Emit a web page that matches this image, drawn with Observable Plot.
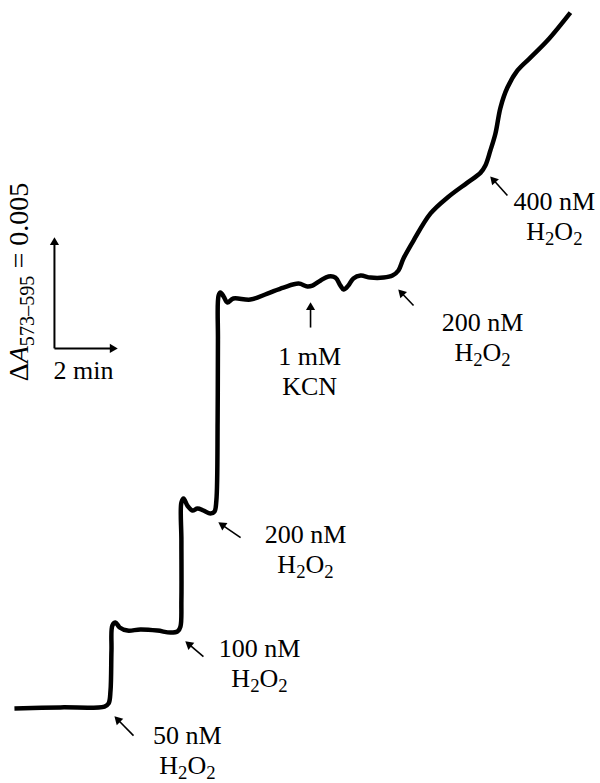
<!DOCTYPE html>
<html><head><meta charset="utf-8">
<script src="https://cdn.jsdelivr.net/npm/d3@7"></script>
<script src="https://cdn.jsdelivr.net/npm/@observablehq/plot@0.6"></script>
<style>body{margin:0;background:#fff} svg text, svg tspan {font-family: 'Liberation Serif', 'Times New Roman', serif !important;}</style>
</head><body><div id="chart"></div>
<script>
// Trace: time (min) and ΔA573–595 (×10^-3)
const traceTime = [0.03,1.49,2.89,3.02,3.08,3.11,3.14,3.24,3.37,3.62,4.03,4.57,4.98,5.21,5.30,5.33,5.33,5.33,5.40,5.52,5.68,5.84,6.03,6.25,6.38,6.44,6.48,6.49,6.51,6.57,6.67,6.79,6.98,7.52,8.06,8.57,9.05,9.33,9.49,9.75,10.00,10.22,10.38,10.48,10.63,10.79,11.02,11.33,11.75,12.03,12.22,12.38,12.70,13.24,13.78,14.41,14.83,14.98,15.14,15.30,15.46,15.68,16.00,16.41,16.95,17.68];
const traceAbs  = [0.09,0.14,0.18,0.32,0.90,2.70,3.83,3.96,3.74,3.60,3.65,3.60,3.51,3.56,3.78,4.95,7.66,9.37,9.55,9.23,9.01,9.10,9.01,8.87,8.96,9.46,13.06,16.67,18.69,18.83,18.65,18.38,18.56,18.51,18.78,19.05,19.23,19.10,19.14,19.37,19.55,19.50,19.14,18.96,19.14,19.46,19.59,19.50,19.50,19.59,19.82,20.36,21.17,22.39,23.11,23.78,24.23,24.55,25.23,25.99,27.16,28.06,28.83,29.41,30.18,31.44];

// Additions (annotation arrows and labels)
const addLine1 = ["50 nM","100 nM","200 nM","1 mM","200 nM","400 nM"];
const addLine2 = ["H2O2","H2O2","H2O2","KCN","H2O2","H2O2"];
const tailTime = [3.81,6.03,7.21,9.43,12.70,15.68];
const tailAbs  = [-1.13,2.43,7.79,17.25,18.24,23.20];
const tipTime  = [3.21,5.46,6.51,9.43,12.22,15.14];
const tipAbs   = [-0.27,3.11,8.47,18.38,18.96,24.05];
const labelTime = [5.52,7.81,9.27,9.40,14.89,17.17];
const labelAbs  = [-1.80,2.12,7.25,15.27,16.80,22.25];

// Scale bar: 2 min by ΔA = 0.005 (5 ×10^-3)
const barCorner = {t: 1.30, a: 16.31};
const barMinutes = 2;
const barAbs = 5;
const barLabelTime = "2 min";
const barLabelAbs = "ΔA573–595 = 0.005";

const xDomain = [-13/31.5, 587/31.5];
const yDomain = [-73/22.2, 710/22.2];
const W = 600, H = 783;
const X = d3.scaleLinear().domain(xDomain).range([0, W]);
const Y = d3.scaleLinear().domain(yDomain).range([H, 0]);

const trace = traceTime.map((t, i) => ({t, a: traceAbs[i]}));

const arrows = tailTime.map((t, i) => ({t1: t, a1: tailAbs[i], t2: tipTime[i], a2: tipAbs[i], w: 1.6}));
arrows.push({t1: barCorner.t, a1: barCorner.a, t2: barCorner.t, a2: barCorner.a + barAbs, w: 2});
arrows.push({t1: barCorner.t, a1: barCorner.a, t2: barCorner.t + barMinutes, a2: barCorner.a, w: 2});

const BACK = 5;
arrows.forEach(d => {
  const dx = X(d.t2) - X(d.t1), dy = Y(d.a2) - Y(d.a1);
  const L = Math.hypot(dx, dy), ux = dx / L, uy = dy / L;
  d.ht = X.invert(X(d.t2) - ux * BACK);
  d.ha = Y.invert(Y(d.a2) - uy * BACK);
  d.rot = Math.atan2(dx, -dy) * 180 / Math.PI;
});

const labels = labelTime.map((t, i) => ({t, a: labelAbs[i], l1: addLine1[i], l2: addLine2[i]}));

const FONT = "'Liberation Serif', 'Times New Roman', serif";
const FS = 26, FS_BAR = 28;
const txt = {fontSize: FS, fontFamily: FONT, fill: "#000", textAnchor: "middle", lineAnchor: "middle"};

const svg = Plot.plot({
  width: W, height: H, margin: 0,
  style: {background: "#fff", fontFamily: FONT},
  x: {domain: xDomain, axis: null},
  y: {domain: yDomain, axis: null},
  marks: [
    Plot.line(trace, {x: "t", y: "a", stroke: "#000", strokeWidth: 4.5, curve: "catmull-rom", strokeLinejoin: "round", strokeLinecap: "butt"}),
    Plot.link(arrows, {x1: "t1", y1: "a1", x2: "ht", y2: "ha", stroke: "#000", strokeWidth: "w"}),
    Plot.dot(arrows, {x: "ht", y: "ha", symbol: "triangle", r: 3.4, fill: "#000", stroke: null, rotate: "rot"}),
    Plot.text(labels, {x: "t", y: "a", text: "l1", dy: -15, ...txt}),
    Plot.text(labels, {x: "t", y: "a", text: "l2", dy: 15, ...txt}),
    Plot.text([{t: 2.22, a: 15.32}], {x: "t", y: "a", text: () => barLabelTime, ...txt}),
    Plot.text([{t: 0.16, a: 19.30}], {x: "t", y: "a", text: () => barLabelAbs, rotate: -90, ...txt, fontSize: FS_BAR})
  ]
});

// Rich text: subscripts and italics; force the serif face
d3.select(svg).selectAll("text").each(function() {
  const s = d3.select(this);
  s.style("font-family", FONT);
  const content = s.text();
  if (content === "H2O2") {
    s.text(null);
    s.append("tspan").text("H");
    s.append("tspan").attr("font-size", FS * 0.72).attr("dy", 5).text("2");
    s.append("tspan").attr("dy", -5).text("O");
    s.append("tspan").attr("font-size", FS * 0.72).attr("dy", 5).text("2");
  } else if (content === barLabelAbs) {
    s.text(null);
    s.append("tspan").text("Δ");
    s.append("tspan").attr("font-style", "italic").text("A");
    s.append("tspan").attr("font-size", FS_BAR * 0.72).attr("dy", 6).text("573–595");
    s.append("tspan").attr("dy", -6).text(" = 0.005");
  }
});

document.getElementById("chart").appendChild(svg);
</script>
</body></html>
